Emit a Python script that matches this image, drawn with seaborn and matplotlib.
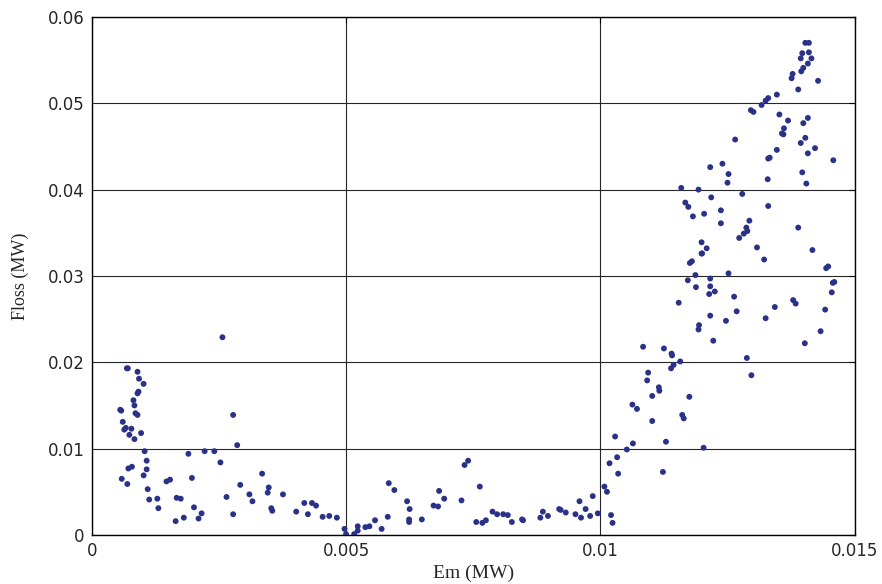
import matplotlib
matplotlib.use("Agg")
import matplotlib.pyplot as plt
import seaborn as sns
import pandas as pd

# Em (MW) values of each point
em = [
    0.00257, 0.00069, 0.00071, 0.00090, 0.00093, 0.00102, 0.00092, 0.00090,
    0.00082, 0.00084, 0.00058, 0.00056, 0.00086, 0.00090, 0.00061, 0.00064,
    0.00067, 0.00078, 0.00074, 0.00097, 0.00084, 0.00278, 0.00286, 0.00104,
    0.00108, 0.00190, 0.00222, 0.00241, 0.00253, 0.00072, 0.00079, 0.00108,
    0.00059, 0.00102, 0.00070, 0.00197, 0.00147, 0.00154, 0.00335, 0.00292,
    0.00348, 0.00346, 0.00310, 0.00376, 0.00110, 0.00113, 0.00129, 0.00167,
    0.00175, 0.00265, 0.00316, 0.00131, 0.00201, 0.00353, 0.00355, 0.00418,
    0.00433, 0.00441, 0.00402, 0.00425, 0.00216, 0.00210, 0.00278, 0.00181,
    0.00165, 0.00454, 0.00467, 0.00482, 0.00497,
    0.00500, 0.00516, 0.00523, 0.00523, 0.00538, 0.00546, 0.00557, 0.00570,
    0.00582, 0.00584, 0.00595, 0.00620, 0.00625, 0.00624, 0.00624, 0.00649,
    0.00672, 0.00681, 0.00683, 0.00693, 0.00727, 0.00733, 0.00740, 0.00763,
    0.00756, 0.00768, 0.00775, 0.00788, 0.00797, 0.00809, 0.00818, 0.00826,
    0.00846, 0.00848, 0.00882, 0.00887, 0.00897, 0.00919, 0.00922, 0.00932,
    0.00951, 0.00959, 0.00962, 0.00971, 0.00980, 0.00985, 0.00995, 0.01008,
    0.01013, 0.01018,
    0.01021, 0.01024, 0.01035, 0.01033, 0.01029, 0.01052, 0.01064, 0.01123,
    0.01129, 0.01102, 0.01063, 0.01072, 0.01102, 0.01115, 0.01116, 0.01092,
    0.01094, 0.01084, 0.01125, 0.01140, 0.01141, 0.01139, 0.01144, 0.01157,
    0.01175, 0.01161, 0.01164, 0.01203, 0.01154, 0.01172, 0.01187, 0.01188,
    0.01176, 0.01180, 0.01200, 0.01216, 0.01216, 0.01214, 0.01225, 0.01216,
    0.01194, 0.01193, 0.01222, 0.01247, 0.01252,
    0.01403, 0.01410, 0.01397, 0.01410, 0.01394, 0.01415, 0.01408, 0.01399,
    0.01395, 0.01378, 0.01376, 0.01428, 0.01389, 0.01347, 0.01330, 0.01325,
    0.01317, 0.01296, 0.01301, 0.01352, 0.01369, 0.01408, 0.01399, 0.01361,
    0.01357, 0.01360, 0.01265, 0.01403, 0.01394, 0.01347, 0.01422, 0.01408,
    0.01333, 0.01330, 0.01458, 0.01216, 0.01240, 0.01252, 0.01250, 0.01329,
    0.01397, 0.01405, 0.01218, 0.01279, 0.01204, 0.01237, 0.01237, 0.01330,
    0.01293, 0.01287, 0.01289, 0.01282, 0.01273, 0.01389, 0.01199, 0.01209,
    0.01199, 0.01308, 0.01322, 0.01417, 0.01448, 0.01444, 0.01460, 0.01457,
    0.01263, 0.01268, 0.01343, 0.01379, 0.01384, 0.01325, 0.01442, 0.01433,
    0.01402, 0.01288, 0.01297, 0.01455,
    0.01159, 0.01193, 0.01167, 0.01173, 0.01182,
]

# Floss (MW) values of each point
floss = [
    0.0229, 0.0193, 0.0193, 0.0189, 0.0181, 0.0175, 0.0166, 0.0164,
    0.0156, 0.0150, 0.0144, 0.0145, 0.0141, 0.0139, 0.0131, 0.0122,
    0.0124, 0.0123, 0.0116, 0.0118, 0.0111, 0.0139, 0.0104, 0.0097,
    0.0086, 0.0094, 0.0097, 0.0097, 0.0084, 0.0077, 0.0079, 0.0076,
    0.0065, 0.0069, 0.0059, 0.0066, 0.0062, 0.0064, 0.0071, 0.0058,
    0.0055, 0.0049, 0.0047, 0.0047, 0.0053, 0.0041, 0.0042, 0.0043,
    0.0042, 0.0044, 0.0039, 0.0031, 0.0032, 0.0031, 0.0028, 0.0037,
    0.0037, 0.0034, 0.0027, 0.0024, 0.0025, 0.0019, 0.0024, 0.0020,
    0.0016, 0.0021, 0.0022, 0.0020, 0.0007,
    0.0001, 0.0001, 0.0005, 0.0010, 0.0009, 0.0010, 0.0017, 0.0007,
    0.0021, 0.0060, 0.0052, 0.0039, 0.0030, 0.0018, 0.0015, 0.0018,
    0.0034, 0.0033, 0.0051, 0.0042, 0.0040, 0.0081, 0.0086, 0.0056,
    0.0015, 0.0014, 0.0017, 0.0027, 0.0024, 0.0024, 0.0023, 0.0015,
    0.0018, 0.0017, 0.0020, 0.0027, 0.0022, 0.0030, 0.0029, 0.0026,
    0.0024, 0.0039, 0.0020, 0.0030, 0.0022, 0.0045, 0.0025, 0.0056,
    0.0050, 0.0083,
    0.0023, 0.0014, 0.0071, 0.0090, 0.0114, 0.0099, 0.0106, 0.0073,
    0.0108, 0.0132, 0.0151, 0.0146, 0.0161, 0.0171, 0.0167, 0.0179,
    0.0188, 0.0218, 0.0216, 0.0210, 0.0208, 0.0193, 0.0197, 0.0201,
    0.0160, 0.0139, 0.0135, 0.0101, 0.0269, 0.0295, 0.0301, 0.0287,
    0.0315, 0.0317, 0.0326, 0.0297, 0.0288, 0.0279, 0.0282, 0.0254,
    0.0243, 0.0238, 0.0225, 0.0248, 0.0303,
    0.0570, 0.0570, 0.0558, 0.0559, 0.0552, 0.0552, 0.0546, 0.0541,
    0.0537, 0.0534, 0.0529, 0.0526, 0.0516, 0.0510, 0.0506, 0.0503,
    0.0498, 0.0492, 0.0490, 0.0487, 0.0480, 0.0483, 0.0477, 0.0471,
    0.0465, 0.0464, 0.0458, 0.0460, 0.0454, 0.0446, 0.0448, 0.0442,
    0.0437, 0.0436, 0.0434, 0.0426, 0.0430, 0.0418, 0.0408, 0.0412,
    0.0420, 0.0407, 0.0391, 0.0395, 0.0372, 0.0376, 0.0361, 0.0381,
    0.0364, 0.0356, 0.0352, 0.0349, 0.0344, 0.0356, 0.0339, 0.0332,
    0.0326, 0.0333, 0.0319, 0.0330, 0.0311, 0.0309, 0.0293, 0.0292,
    0.0276, 0.0259, 0.0264, 0.0272, 0.0268, 0.0251, 0.0261, 0.0236,
    0.0222, 0.0205, 0.0185, 0.0281,
    0.0402, 0.0400, 0.0385, 0.0380, 0.0369,
]

x_ticks = [0, 0.005, 0.01, 0.015]
x_tick_labels = ["0", "0.005", "0.01", "0.015"]
y_ticks = [0, 0.01, 0.02, 0.03, 0.04, 0.05, 0.06]
y_tick_labels = ["0", "0.01", "0.02", "0.03", "0.04", "0.05", "0.06"]


def main():
    sns.set_style("white")
    plt.rcParams["font.family"] = ["DejaVu Sans"]

    df = pd.DataFrame({"em": em, "floss": floss})

    fig = plt.figure(figsize=(8.82, 5.84), dpi=100)
    ax = fig.add_axes([0.104, 0.084, 0.865, 0.887])

    sns.scatterplot(data=df, x="em", y="floss", ax=ax, s=18,
                    color="#2a3288", edgecolor="none", zorder=3)

    ax.set_xlim(0, 0.015)
    ax.set_ylim(0, 0.06)
    ax.set_xticks(x_ticks)
    ax.set_xticklabels(x_tick_labels)
    ax.set_yticks(y_ticks)
    ax.set_yticklabels(y_tick_labels)

    ax.grid(True, color="0.15", linewidth=0.8, linestyle="-")
    ax.set_axisbelow(True)

    ax.tick_params(direction="in", length=4, width=0.8, top=True, right=True,
                   labelsize=12, colors="black", labelcolor="0.15", pad=5)
    for side in ax.spines.values():
        side.set_color("black")
        side.set_linewidth(1.0)

    # axis titles in a Times-like face, as in the original
    ax.set_xlabel("Em (MW)", family=["Liberation Serif"], fontsize=14)
    ax.set_ylabel("Floss (MW)", family=["Liberation Serif"], fontsize=13)
    ax.xaxis.set_label_coords(0.5, -0.058)
    ax.yaxis.set_label_coords(-0.082, 0.5)

    fig.savefig("out.png", dpi=100)
    plt.close(fig)


if __name__ == "__main__":
    main()
